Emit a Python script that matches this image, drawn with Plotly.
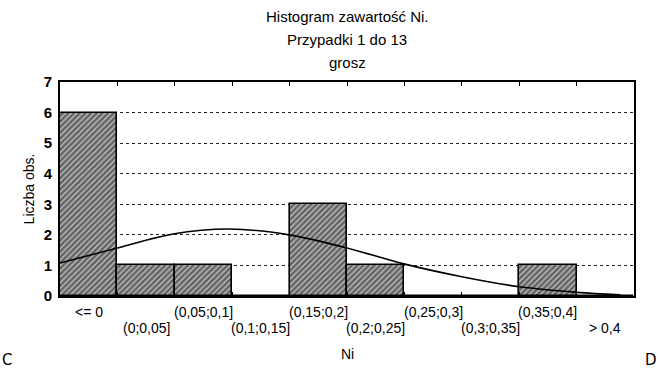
import plotly.graph_objects as go

categories = ["<= 0", "(0;0,05]", "(0,05;0,1]", "(0,1;0,15]", "(0,15;0,2]",
              "(0,2;0,25]", "(0,25;0,3]", "(0,3;0,35]", "(0,35;0,4]", "> 0,4"]
counts = [6, 1, 1, 0, 3, 1, 0, 0, 1, 0]

# expected-normal curve (x in category-index units)
curve_x = [-0.5, 0.5, 1.47, 2.46, 3.49, 4.5, 5.49, 6.5, 7.51, 8.5, 9.26]
curve_y = [1.08, 1.57, 2.03, 2.19, 2.0, 1.57, 1.05, 0.63, 0.3, 0.12, 0.04]

y_ticks = [0, 1, 2, 3, 4, 5, 6, 7]
boundaries = [i - 0.5 for i in range(len(categories) + 1)]

FONT = "Liberation Sans, Arial, sans-serif"
W, H = 659, 374
L, R, T, B = 60, 25, 82, 78
PW, PH = W - L - R, H - T - B
idx = list(range(len(categories)))


def px_to_paper(xp, yp):
    return (xp - L) / PW, ((H - yp) - B) / PH


fig = go.Figure()
fig.add_trace(go.Bar(
    x=idx, y=counts, width=1.0,
    marker=dict(color="white",
                line=dict(color="black", width=1.6),
                pattern=dict(shape="/", fgcolor="black", bgcolor="#c8c8c8",
                             size=4, solidity=0.7)),
    showlegend=False, hoverinfo="skip"))
fig.add_trace(go.Scatter(
    x=curve_x, y=curve_y, mode="lines", line=dict(color="black", width=1.6, shape="spline"),
    showlegend=False, hoverinfo="skip"))

annotations = []
for i, lab in enumerate(categories):
    annotations.append(dict(x=i, y=0, xref="x", yref="paper", text=lab, showarrow=False,
                            xanchor="center", yanchor="middle",
                            yshift=-16 if i % 2 == 0 else -32,
                            font=dict(family=FONT, size=14, color="black")))

texts = [("Histogram zawartość Ni.", 347, 16, 15, FONT, "center"),
         ("Przypadki 1 do 13", 347, 39, 15, FONT, "center"),
         ("grosz", 347, 62, 15, FONT, "center"),
         ("Ni", 347, 354, 14, FONT, "center"),
         ("C", 0, 360, 15, "DejaVu Sans", "left"),
         ("D", 659, 360, 15, "DejaVu Sans", "right")]
for t, xp, yp, fs, fam, anc in texts:
    xa, ya = px_to_paper(xp, yp)
    annotations.append(dict(x=xa, y=ya, xref="paper", yref="paper", text=t,
                            showarrow=False, xanchor=anc, yanchor="middle",
                            font=dict(family=fam, size=fs, color="black")))

fig.update_layout(
    width=W, height=H,
    margin=dict(l=L, r=R, t=T, b=B),
    paper_bgcolor="white", plot_bgcolor="white",
    bargap=0,
    xaxis=dict(range=[-0.5, 9.5], tickvals=boundaries, showticklabels=False,
               ticks="inside", ticklen=4, tickcolor="black", tickwidth=1,
               showline=True, linecolor="black", linewidth=1.6, mirror="ticks",
               showgrid=False, zeroline=False),
    yaxis=dict(range=[0, 7], tickvals=y_ticks, ticktext=[f"<b>{v}</b>" for v in y_ticks],
               tickfont=dict(family=FONT, size=15, color="black"),
               showline=True, linecolor="black", linewidth=1.6, mirror=True,
               showgrid=True, gridcolor="#222", griddash="dot", gridwidth=1,
               zeroline=False, ticks="", ticklabelstandoff=3,
               title=dict(text="Liczba obs.", font=dict(family=FONT, size=14, color="black"),
                          standoff=6)),
    annotations=annotations,
)

fig.write_html("out.html", config={"displayModeBar": False},
               post_script="document.body.style.margin='0';")
